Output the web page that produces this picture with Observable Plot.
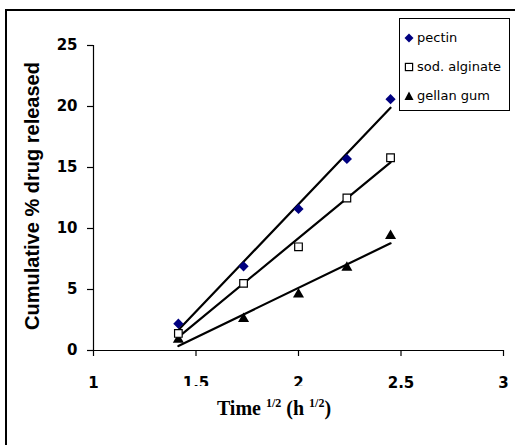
<!DOCTYPE html>
<html>
<head>
<meta charset="utf-8">
<script src="https://cdn.jsdelivr.net/npm/d3@7"></script>
<script src="https://cdn.jsdelivr.net/npm/@observablehq/plot@0.6"></script>
<style>
  html, body { margin: 0; padding: 0; background: #fff; }
  #wrap { position: relative; width: 515px; height: 445px; overflow: hidden; }
  #frame { position: absolute; left: 5px; top: 9px; width: 600px; height: 600px;
           border-left: 2px solid #000; border-top: 2px solid #000; }
  #chart { position: absolute; left: 0; top: 0; }
  #chart svg g[aria-label$="tick label"] text { font-family: "DejaVu Sans", sans-serif; font-weight: bold; font-size: 15px; fill: #000; }
  #chart svg g[aria-label="text"] text { font-family: "Liberation Sans", Arial, sans-serif; font-weight: bold; font-size: 20px; fill: #000; }
  #xtitle { position: absolute; left: 178px; top: 386px; width: 192px; height: 44px; padding-top: 11px; box-sizing: border-box;
            background: #fff; font-family: "Liberation Serif", "Times New Roman", serif;
            font-weight: bold; font-size: 20px; text-align: center; line-height: normal; white-space: nowrap; }
  #xtitle sup { font-size: 12px; vertical-align: 8px; line-height: 0; }
  #legend { position: absolute; left: 399px; top: 18px; width: 111px; height: 93px;
            border: 1px solid #000; background: #fff; box-sizing: border-box;
            font-family: "DejaVu Sans", sans-serif; font-size: 13px; }
  #legend .item { position: absolute; left: 4px; display: flex; align-items: center; white-space: nowrap; }
  #legend svg { margin-right: 3px; }
</style>
</head>
<body>
<div id="wrap">
  <div id="frame"></div>
  <div id="chart"></div>
  <div id="xtitle">Time <sup>1/2</sup> (h <sup>1/2</sup>)</div>
  <div id="legend"></div>
</div>
<script>
// Time^(1/2) values (h^1/2)
const sqrtTime = [1.414, 1.732, 2.0, 2.236, 2.449];
const pectin = [2.2, 6.9, 11.6, 15.7, 20.6];
const sodAlginate = [1.4, 5.5, 8.5, 12.5, 15.8];
const gellanGum = [0.9, 2.6, 4.6, 6.8, 9.4];
const seriesNames = ["pectin", "sod. alginate", "gellan gum"];
const xTicks = [1, 1.5, 2, 2.5, 3];
const yTicks = [0, 5, 10, 15, 20, 25];

const seriesValues = [pectin, sodAlginate, gellanGum];
const data = [];
seriesNames.forEach((name, i) => {
  sqrtTime.forEach((t, j) => data.push({series: name, x: t, y: seriesValues[i][j]}));
});
const byName = n => data.filter(d => d.series === n);

const chart = Plot.plot({
  width: 515,
  height: 445,
  marginLeft: 93,
  marginRight: 12,
  marginTop: 45,
  marginBottom: 95,
  style: {fontFamily: "Liberation Sans, Arial, sans-serif", background: "transparent", overflow: "visible"},
  x: {domain: [1, 3]},
  y: {domain: [0, 25]},
  marks: [
    Plot.ruleX([1], {stroke: "#000", strokeWidth: 1.2}),
    Plot.ruleY([0], {x1: 1, x2: 3, stroke: "#000", strokeWidth: 1.2}),
    Plot.axisX({ticks: xTicks, tickSize: 6, tickPadding: 21, label: null,
      tickFormat: d => String(d), stroke: "#000", strokeWidth: 1.2}),
    Plot.axisY({ticks: yTicks, tickSize: 6, tickPadding: 10, label: null,
      stroke: "#000", strokeWidth: 1.2}),
    Plot.text(["Cumulative % drug released"], {frameAnchor: "left", dx: -61, dy: -2, rotate: -90, textAnchor: "middle"}),
    ...seriesNames.map(n => Plot.linearRegressionY(byName(n), {x: "x", y: "y", stroke: "#000", strokeWidth: 2.2, ci: 0})),
    Plot.dot(byName("gellan gum"), {x: "x", y: "y", symbol: "triangle", r: 4.1, fill: "#000", stroke: "none"}),
    Plot.dot(byName("sod. alginate"), {x: "x", y: "y", symbol: "square", r: 4.3, fill: "#fff", stroke: "#000", strokeWidth: 1.2}),
    Plot.dot(byName("pectin"), {x: "x", y: "y", symbol: "diamond2", r: 4.6, fill: "#000080", stroke: "none"})
  ]
});
document.getElementById("chart").appendChild(chart);

// legend
const legendSymbols = {
  "pectin": '<svg width="10" height="10" viewBox="-5 -5 10 10"><path d="M0,-4.5L4.5,0L0,4.5L-4.5,0Z" fill="#000080"/></svg>',
  "sod. alginate": '<svg width="10" height="10" viewBox="-5 -5 10 10"><rect x="-3.6" y="-3.6" width="7.2" height="7.2" fill="#fff" stroke="#000" stroke-width="1.2"/></svg>',
  "gellan gum": '<svg width="10" height="10" viewBox="-5 -5 10 10"><path d="M0,-4.5L4.5,4L-4.5,4Z" fill="#000"/></svg>'
};
const legend = document.getElementById("legend");
seriesNames.forEach((n, i) => {
  const div = document.createElement("div");
  div.className = "item";
  div.style.top = (11 + i * 29) + "px";
  div.innerHTML = legendSymbols[n] + "<span>" + n + "</span>";
  legend.appendChild(div);
});
</script>
</body>
</html>
